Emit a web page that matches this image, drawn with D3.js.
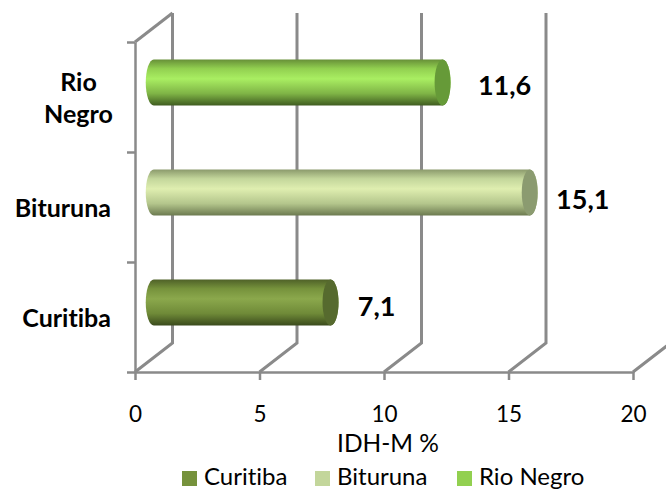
<!DOCTYPE html>
<html>
<head>
<meta charset="utf-8">
<script src="https://cdn.jsdelivr.net/npm/d3@7"></script>
<style>
  body { margin: 0; background: #fff; }
  text { font-family: Lato, "Open Sans", sans-serif; fill: #000; font-variant-ligatures: none; }
</style>
</head>
<body>
<script>
// bottom to top on the chart
const categories = ["Curitiba", "Bituruna", "Rio Negro"];
const values = [7.1, 15.1, 11.6];
const valueLabels = ["7,1", "15,1", "11,6"];
const xTicks = [0, 5, 10, 15, 20];
const xTitle = "IDH-M %";

const width = 666, height = 491;
const plotLeft = 135, plotRight = 633, plotTop = 42, plotBottom = 372;
const depthX = 37.5, depthY = -29;
const grey = "#8a8a8a";

// body gradient [dark edge, mid, light, mid, dark edge], cap and legend colours
const colours = {
  "Curitiba": { body: ["#4f6128", "#76923c", "#8ba84c", "#6f8a38", "#3a4a1c"], cap: "#566a2e", key: "#76923c" },
  "Bituruna": { body: ["#8b9a6c", "#c3d69b", "#dfeeb0", "#b4c68c", "#6c7a50"], cap: "#8b9b70", key: "#c3d69b" },
  "Rio Negro": { body: ["#679038", "#92d050", "#a9ee62", "#7fb446", "#3f5c20"], cap: "#669a38", key: "#92d050" }
};

const svg = d3.select("body").append("svg")
    .attr("width", width)
    .attr("height", height)
    .style("display", "block");

const x = d3.scaleLinear().domain([0, 20]).range([plotLeft, plotRight]);
const yIdx = d3.scaleLinear().domain([0, 3]).range([plotBottom, plotTop]);
const y = d3.scaleBand().domain(categories).range([plotBottom, plotTop]);

// gradients
const defs = svg.append("defs");
categories.forEach((c, i) => {
  const g = defs.append("linearGradient").attr("id", "grad" + i)
      .attr("x1", 0).attr("x2", 0).attr("y1", 0).attr("y2", 1);
  [0, 0.2, 0.42, 0.74, 1].forEach((o, j) => {
    g.append("stop").attr("offset", o).attr("stop-color", colours[c].body[j]);
  });
});

// back wall grid and floor diagonals
const grid = svg.append("g").attr("stroke", grey).attr("fill", "none");
grid.selectAll("path.wall").data(xTicks).join("path")
    .attr("class", "wall")
    .attr("stroke-width", 3)
    .attr("d", d => d3.line()([
      [x(d), plotBottom],
      [x(d) + depthX, plotBottom + depthY],
      [x(d) + depthX, plotTop + depthY]
    ]));
grid.append("path")
    .attr("stroke-width", 3)
    .attr("d", d3.line()([[plotLeft, plotTop], [plotLeft + depthX, plotTop + depthY]]));

// axes
const xAxis = svg.append("g")
    .attr("transform", `translate(0,${plotBottom})`)
    .call(d3.axisBottom(x).tickValues(xTicks).tickSize(8).tickSizeOuter(0).tickPadding(26));
const yAxis = svg.append("g")
    .attr("transform", `translate(${plotLeft},0)`)
    .call(d3.axisLeft(yIdx).tickValues([0, 1, 2, 3]).tickSize(8).tickSizeOuter(0).tickFormat(""));
[xAxis, yAxis].forEach(a => {
  a.selectAll("path, line").attr("stroke", grey).attr("stroke-width", 2.5);
});
xAxis.selectAll("text").attr("font-family", null).style("font-size", "22.5px").attr("fill", "#000");

// cylinders
const barH = 46, rx = 8;
const bars = svg.selectAll("g.bar").data(categories).join("g").attr("class", "bar")
    .attr("transform", c => `translate(${depthX / 2},${y(c) + y.bandwidth() / 2 + depthY / 2})`);
bars.append("path")
    .attr("fill", (c, i) => `url(#grad${i})`)
    .attr("d", (c, i) => {
      const x0 = x(0), x1 = x(values[i]), r = barH / 2;
      return `M${x0},${-r}L${x1},${-r}A${rx},${r} 0 0 1 ${x1},${r}L${x0},${r}A${rx},${r} 0 0 1 ${x0},${-r}Z`;
    });
bars.append("ellipse")
    .attr("cx", (c, i) => x(values[i]))
    .attr("cy", 0)
    .attr("rx", rx)
    .attr("ry", barH / 2)
    .attr("fill", c => colours[c].cap);

// value labels sit at hand-placed distances from the bar ends
const labelGap = [46, 53, 62];
const labelDrop = [13.5, 16.5, 12.5];
svg.selectAll("text.value").data(categories).join("text").attr("class", "value")
    .attr("x", (c, i) => x(values[i]) + depthX / 2 + labelGap[i])
    .attr("y", (c, i) => y(c) + y.bandwidth() / 2 + depthY / 2 + labelDrop[i])
    .attr("text-anchor", "middle")
    .style("font-size", "27px")
    .style("font-weight", "bold")
    .text((c, i) => valueLabels[i]);

// category labels
const catLabels = svg.selectAll("text.cat").data(categories).join("text").attr("class", "cat")
    .style("font-size", "25px")
    .style("font-weight", "bold");
catLabels.filter(c => !c.includes(" "))
    .attr("x", 111)
    .attr("y", c => y(c) + y.bandwidth() / 2 + 10)
    .attr("text-anchor", "end")
    .text(c => c);
catLabels.filter(c => c.includes(" "))
    .attr("text-anchor", "middle")
    .selectAll("tspan").data(c => c.split(" ")).join("tspan")
    .attr("x", 78.5)
    .attr("y", (d, i) => 91 + i * 32)
    .text(d => d);

// axis title
svg.append("text")
    .attr("x", 388)
    .attr("y", 452)
    .attr("text-anchor", "middle")
    .style("font-size", "24.5px")
    .text(xTitle);

// legend
const legendX = [182, 315, 457];
const legend = svg.selectAll("g.key").data(categories).join("g").attr("class", "key")
    .attr("transform", (c, i) => `translate(${legendX[i]},471)`);
legend.append("rect").attr("width", 15).attr("height", 15).attr("fill", c => colours[c].key);
legend.append("text").attr("x", 22).attr("y", 14).style("font-size", "24px").text(c => c);
</script>
</body>
</html>
